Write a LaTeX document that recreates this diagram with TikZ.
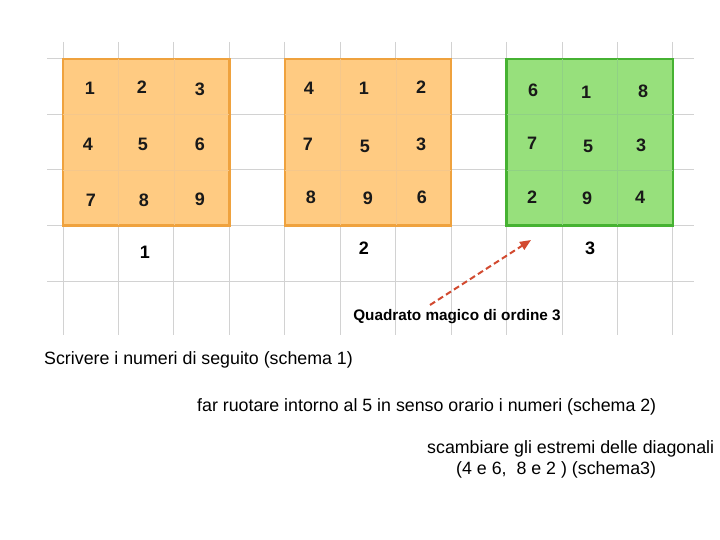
\documentclass[tikz,border=0pt]{standalone}
\usepackage{fontspec}
\setmainfont{Liberation Sans}
\usetikzlibrary{arrows.meta}
\definecolor{gridc}{HTML}{D2D2D2}
\definecolor{orfill}{HTML}{FFCB82}
\definecolor{ordraw}{HTML}{EFA23E}
\definecolor{grfill}{HTML}{97E07C}
\definecolor{grdraw}{HTML}{46B232}
\definecolor{arrc}{HTML}{D24A30}
\tikzset{
  num/.style={font=\fontsize{18}{18}\selectfont\bfseries, text=black!90, inner sep=0pt},
  schemalabel/.style={font=\fontsize{18}{18}\selectfont\bfseries, inner sep=0pt},
  orsq/.style={fill=orfill, draw=ordraw, line width=2.4pt},
  grsq/.style={fill=grfill, draw=grdraw, line width=2.4pt},
  gridline/.style={draw=gridc, line width=1pt},
  innero/.style={draw=ordraw!60, line width=0.4pt},
  innerg/.style={draw=grdraw!60, line width=0.4pt},
  body/.style={font=\fontsize{17.8}{21}\selectfont, anchor=west, inner sep=0pt},
  notetext/.style={font=\fontsize{15.3}{15}\selectfont\bfseries, inner sep=0pt},
  darr/.style={draw=arrc, line width=2pt, dash pattern=on 6pt off 3.5pt, -{Triangle[length=11pt,width=9pt]}}
}
\begin{document}
\begin{tikzpicture}[x=1pt,y=-1pt]
\useasboundingbox (0,0) rectangle (720,540);
\fill[white] (0,0) rectangle (720,540);
% grid
\foreach \k in {0,...,11} {
  \draw[gridline] ({63+55.45*\k},42) -- ({63+55.45*\k},335);
}
\foreach \yy in {59,114.5,170,225.5,281} {
  \draw[gridline] (47,\yy) -- (694,\yy);
}
% squares
\foreach \xs/\st/\inn in {63/orsq/innero, 284.8/orsq/innero, 506.6/grsq/innerg} {
  \path[\st] (\xs,59) rectangle ({\xs+166.4},225.5);
  \draw[\inn] ({\xs+55.45},59) -- ({\xs+55.45},225.5);
  \draw[\inn] ({\xs+110.9},59) -- ({\xs+110.9},225.5);
  \draw[\inn] (\xs,114.5) -- ({\xs+166.4},114.5);
  \draw[\inn] (\xs,170) -- ({\xs+166.4},170);
}
% schema 1
\node[num] (a1) at (90,88) {1};
\node[num] (a2) at (142,87) {2};
\node[num] (a3) at (200,89) {3};
\node[num] (a4) at (88,144) {4};
\node[num] (a5) at (143,144) {5};
\node[num] (a6) at (200,144) {6};
\node[num] (a7) at (91,200) {7};
\node[num] (a8) at (144,200) {8};
\node[num] (a9) at (200,199) {9};
% schema 2
\node[num] (b4) at (309,88) {4};
\node[num] (b1) at (364,88) {1};
\node[num] (b2) at (421,87) {2};
\node[num] (b7) at (308,144) {7};
\node[num] (b5) at (365,146) {5};
\node[num] (b3) at (421,144) {3};
\node[num] (b8) at (311,197) {8};
\node[num] (b9) at (368,198) {9};
\node[num] (b6) at (422,197) {6};
% schema 3
\node[num] (c6) at (533,90) {6};
\node[num] (c1) at (586,92) {1};
\node[num] (c8) at (643,91) {8};
\node[num] (c7) at (532,143) {7};
\node[num] (c5) at (588,146) {5};
\node[num] (c3) at (641,145) {3};
\node[num] (c2) at (532,197) {2};
\node[num] (c9) at (587,198) {9};
\node[num] (c4) at (640,197) {4};
% captions
\node[schemalabel] (s1) at (145,252) {1};
\node[schemalabel] (s2) at (364,248) {2};
\node[schemalabel] (s3) at (590,248) {3};
% note and arrow
\node[notetext] (q) at (457,317) {Quadrato magico di ordine 3};
\coordinate (tail) at (430,305);
\coordinate (tip) at (531,240);
\draw[darr] (tail) -- (tip);
% text
\node[body] (t1) at (44,360) {Scrivere i numeri di seguito (schema 1)};
\node[body] (t2) at (197,407) {far ruotare intorno al 5 in senso orario i numeri (schema 2)};
\node[body] (t3) at (427,449) {scambiare gli estremi delle diagonali};
\node[body] (t4) at (456,470) {(4 e 6,\ \ 8 e 2 ) (schema3)};
\end{tikzpicture}
\end{document}
